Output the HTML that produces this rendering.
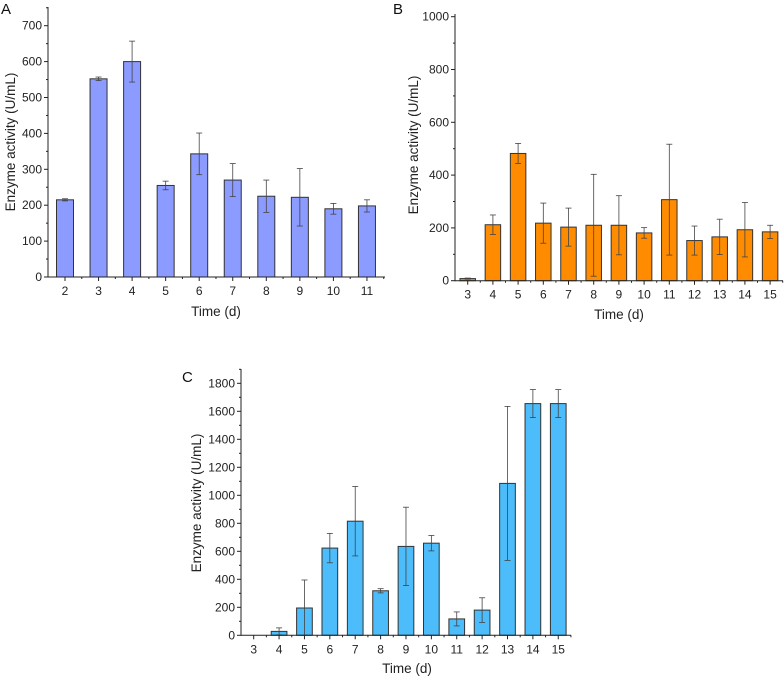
<!DOCTYPE html>
<html><head><meta charset="utf-8"><style>
body{margin:0;background:#fff}
svg{display:block;font-family:"Liberation Sans",Arial,sans-serif}
</style></head><body>
<svg id="fig" width="784" height="678" viewBox="0 0 784 678"></svg>
<script>
const catsA=[2,3,4,5,6,7,8,9,10,11];
const valsA=[215,552,600,255,343,270,225,222,190,198];
const errA=[3,5,57,12,58,46,45,80,15,17];
const ticksA=[0,100,200,300,400,500,600,700];
const catsB=[3,4,5,6,7,8,9,10,11,12,13,14,15];
const valsB=[8,212,482,218,203,210,210,181,307,152,166,193,185];
const errB=[2,37,38,76,72,193,112,20,210,55,67,103,25];
const ticksB=[0,200,400,600,800,1000];
const catsC=[3,4,5,6,7,8,9,10,11,12,13,14,15];
const valsC=[0,28,195,623,815,318,635,658,117,180,1085,1655,1655];
const errC=[0,25,200,105,248,15,280,55,50,88,550,100,100];
const ticksC=[0,200,400,600,800,1000,1200,1400,1600,1800];

const svg=document.getElementById('fig');
const NS='http://www.w3.org/2000/svg';
function mk(tag,attrs,parent){const e=document.createElementNS(NS,tag);for(const k in attrs)e.setAttribute(k,attrs[k]);(parent||svg).appendChild(e);return e;}

function panel(p){
  const g=mk('g',{});
  
  
  const y=v=>p.y0-(v/p.vmax)*(p.y0-p.ytop);
  const x=i=>p.x0+i*p.step;
  p.cats.forEach((c,i)=>{
    const v=p.vals[i];
    const b=mk('rect',{x:x(i)-p.bw/2,y:y(v),width:p.bw,height:p.y0-y(v),fill:p.color,stroke:'#333','stroke-width':1},g);
    
    
    const e=p.errs[i];
    if(e>0){
      const eg=mk('g',{stroke:'#444','stroke-width':0.8},g);
      
      
      mk('line',{x1:x(i),x2:x(i),y1:y(v+e),y2:y(Math.max(0,v-e))},eg);
      mk('line',{x1:x(i)-3,x2:x(i)+3,y1:y(v+e),y2:y(v+e)},eg);
      mk('line',{x1:x(i)-3,x2:x(i)+3,y1:y(Math.max(0,v-e)),y2:y(Math.max(0,v-e))},eg);
    }
  });
  const ax=mk('g',{stroke:'#222','stroke-width':1},g);
  
  
  mk('line',{x1:p.ax,x2:p.ax,y1:p.atop,y2:p.y0+0.5},ax);
  mk('line',{x1:p.ax,x2:p.aend,y1:p.y0,y2:p.y0},ax);
  const dt=p.ticks[1]-p.ticks[0];
  p.ticks.forEach((t,i)=>{
    mk('line',{x1:p.ax-4,x2:p.ax,y1:y(t),y2:y(t)},ax);
    const m=t+dt/2;
    if(y(m)>p.atop) mk('line',{x1:p.ax-2,x2:p.ax,y1:y(m),y2:y(m)},ax);
    const tl=mk('text',{x:p.ax-6,y:y(t)+4,'text-anchor':'end','font-size':12,fill:'#222',stroke:'none'},g);
    tl.textContent=t;
    
    
  });
  p.cats.forEach((c,i)=>{
    mk('line',{x1:x(i),x2:x(i),y1:p.y0,y2:p.y0+4},ax);
    mk('line',{x1:x(i)+p.step/2,x2:x(i)+p.step/2,y1:p.y0,y2:p.y0+2},ax);
    const tl=mk('text',{x:x(i),y:p.y0+18,'text-anchor':'middle','font-size':12,fill:'#222'},g);
    tl.textContent=c;
    
    
  });
  const xt=mk('text',{x:p.xtx,y:p.xty,'text-anchor':'middle','font-size':13.5,fill:'#222'},g);
  xt.textContent='Time (d)';
  
  
  const yt=mk('text',{x:0,y:0,transform:`translate(${p.ytx},${p.yty}) rotate(-90)`,'text-anchor':'middle','font-size':13.5,fill:'#222'},g);
  yt.textContent='Enzyme activity (U/mL)';
  
  
  const pl=mk('text',{x:p.lx,y:p.ly,'font-size':15,fill:'#111'},g);
  pl.textContent=p.label;
  
  
}

panel({name:'panel-a',cats:catsA,vals:valsA,errs:errA,ticks:ticksA,vmax:700,y0:277,ytop:25.7,x0:65,step:33.55,bw:17,
  color:'#8b9bff',ax:48,atop:7,aend:385,xtx:216,xty:316,ytx:15,yty:142,label:'A',lx:1,ly:14});
panel({name:'panel-b',cats:catsB,vals:valsB,errs:errB,ticks:ticksB,vmax:1000,y0:280.7,ytop:16.7,x0:467.7,step:25.2,bw:15.5,
  color:'#ff8c00',ax:455,atop:14,aend:783,xtx:619,xty:319,ytx:418,yty:145,label:'B',lx:393,ly:14});
panel({name:'panel-c',cats:catsC,vals:valsC,errs:errC,ticks:ticksC,vmax:1800,y0:635.3,ytop:383.3,x0:253.7,step:25.38,bw:15.7,
  color:'#4cbcfa',ax:241,atop:369,aend:571,xtx:407,xty:673,ytx:201,yty:503,label:'C',lx:182,ly:382});
</script>
</body></html>
